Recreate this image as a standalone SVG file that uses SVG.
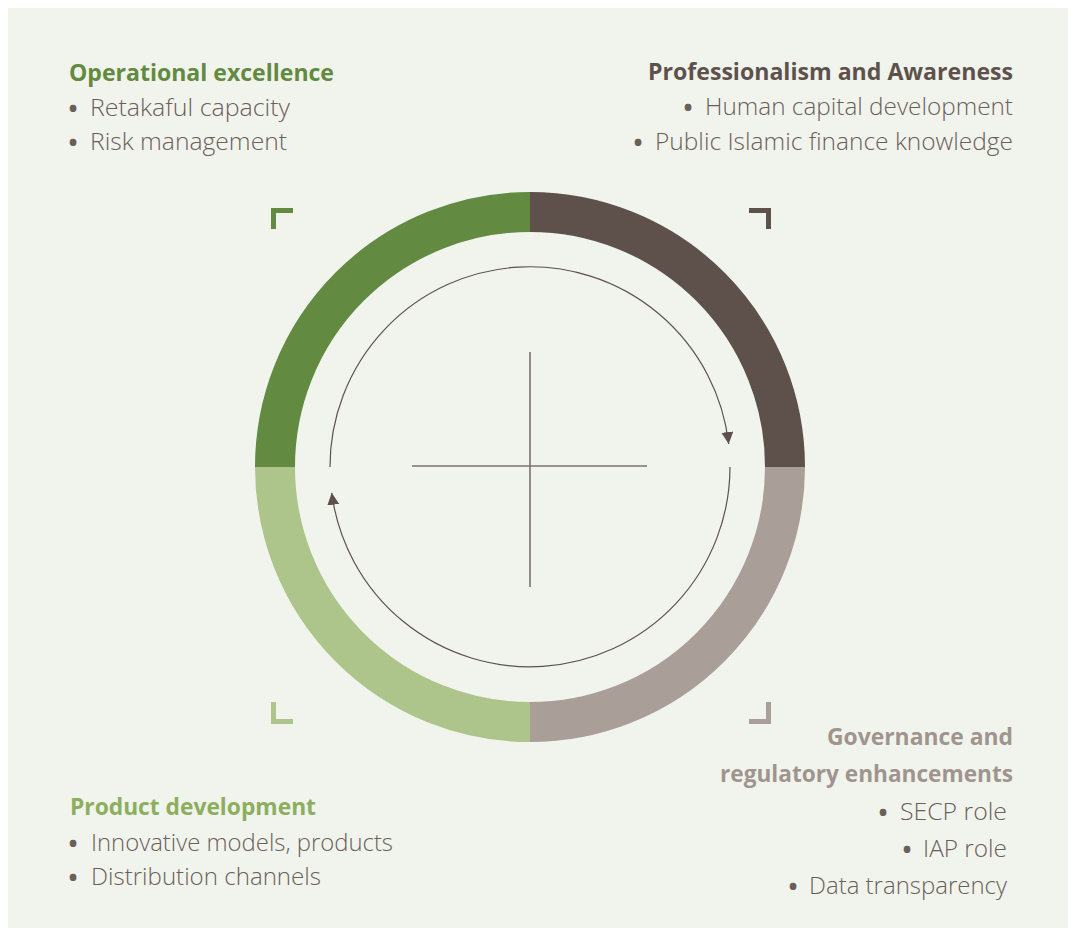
<svg xmlns="http://www.w3.org/2000/svg" width="1076" height="936" viewBox="0 0 1076 936">
<defs>
<style>
.title{font-family:"Open Sans","Noto Sans","Liberation Sans",sans-serif;font-weight:700;font-size:23px}
.item{font-family:"Open Sans","Noto Sans","Liberation Sans",sans-serif;font-weight:300;font-size:23px;fill:#6b5f5a}
.bul{font-family:"Open Sans","Noto Sans","Liberation Sans",sans-serif;font-weight:700;font-size:24px;fill:#6b5f5a;text-anchor:middle}
.ring{fill:none;stroke-width:40}
.bracket{fill:none;stroke-width:5}
.thin{fill:none;stroke:#5e514c;stroke-width:1.2}
.cross{stroke:#7d726d;stroke-width:1.6}
</style>
<marker id="ah" markerUnits="userSpaceOnUse" markerWidth="13" markerHeight="13" refX="12" refY="6" orient="auto">
<path d="M0,0 L12,6 L0,12 z" fill="#5e514c"/>
</marker>
</defs>
<rect x="0" y="0" width="1076" height="936" fill="#ffffff"/>
<rect x="8" y="8" width="1060" height="920" fill="#f1f4ec"/>

<g id="ring">
<path class="ring" stroke="#628a40" d="M275,467 A255,255 0 0 1 530,212"/>
<path class="ring" stroke="#5e514c" d="M530,212 A255,255 0 0 1 785,467"/>
<path class="ring" stroke="#aa9e99" d="M785,467 A255,255 0 0 1 530,722"/>
<path class="ring" stroke="#adc58a" d="M530,722 A255,255 0 0 1 275,467"/>
</g>

<g id="brackets">
<path class="bracket" stroke="#628a40" d="M273.5,229 V210.5 H293"/>
<path class="bracket" stroke="#5e514c" d="M749,210.5 H768.5 V229"/>
<path class="bracket" stroke="#adc58a" d="M273.5,702 V721.5 H293"/>
<path class="bracket" stroke="#aa9e99" d="M749,721.5 H768.5 V702"/>
</g>

<g id="connectors">
<path class="thin" d="M330,467 A200,200 0 0 1 728.7,444" marker-end="url(#ah)"/>
<path class="thin" d="M730,467 A200,200 0 0 1 331.7,492.8" marker-end="url(#ah)"/>
<line class="cross" x1="530" y1="352" x2="530" y2="587"/>
<line class="cross" x1="412" y1="466" x2="647" y2="466"/>
</g>

<g id="operational">
<text class="title" x="69" y="81" fill="#628a40" textLength="265" lengthAdjust="spacingAndGlyphs">Operational excellence</text>
<text class="bul" x="73" y="117">•</text>
<text class="item" x="90" y="116" textLength="200" lengthAdjust="spacingAndGlyphs">Retakaful capacity</text>
<text class="bul" x="73" y="151">•</text>
<text class="item" x="90" y="150" textLength="197" lengthAdjust="spacingAndGlyphs">Risk management</text>
</g>

<g id="professionalism">
<text class="title" x="648" y="80" fill="#5e514c" textLength="365" lengthAdjust="spacingAndGlyphs">Professionalism and Awareness</text>
<text class="bul" x="688" y="116">•</text>
<text class="item" x="705" y="115" textLength="308" lengthAdjust="spacingAndGlyphs">Human capital development</text>
<text class="bul" x="638" y="151">•</text>
<text class="item" x="655" y="150" textLength="358" lengthAdjust="spacingAndGlyphs">Public Islamic finance knowledge</text>
</g>

<g id="governance">
<text class="title" x="827" y="745" fill="#a0948f" textLength="186" lengthAdjust="spacingAndGlyphs">Governance and</text>
<text class="title" x="720" y="782" fill="#a0948f" textLength="293" lengthAdjust="spacingAndGlyphs">regulatory enhancements</text>
<text class="bul" x="883" y="821">•</text>
<text class="item" x="900" y="820" textLength="107" lengthAdjust="spacingAndGlyphs">SECP role</text>
<text class="bul" x="907" y="858">•</text>
<text class="item" x="923" y="857" textLength="84" lengthAdjust="spacingAndGlyphs">IAP role</text>
<text class="bul" x="793" y="895">•</text>
<text class="item" x="809" y="894" textLength="198" lengthAdjust="spacingAndGlyphs">Data transparency</text>
</g>

<g id="product">
<text class="title" x="70" y="815" fill="#8cae5e" textLength="246" lengthAdjust="spacingAndGlyphs">Product development</text>
<text class="bul" x="73" y="852">•</text>
<text class="item" x="91" y="851" textLength="302" lengthAdjust="spacingAndGlyphs">Innovative models, products</text>
<text class="bul" x="73" y="886">•</text>
<text class="item" x="91" y="885" textLength="230" lengthAdjust="spacingAndGlyphs">Distribution channels</text>
</g>
</svg>
